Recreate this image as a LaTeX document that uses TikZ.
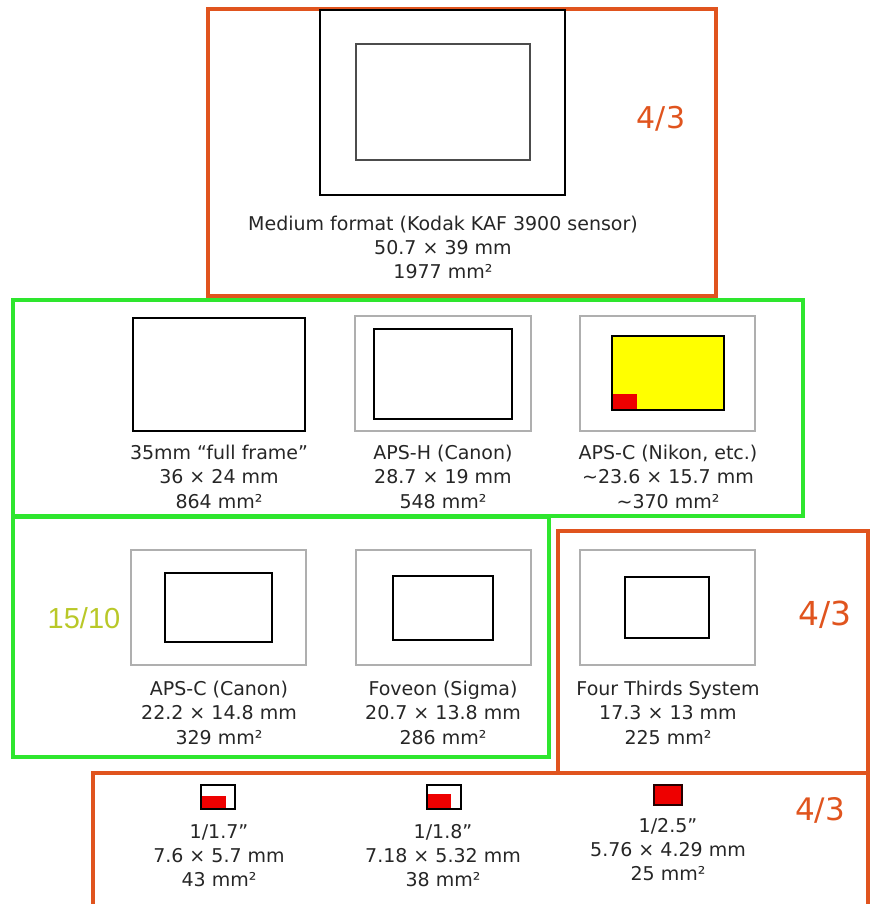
\documentclass[tikz,border=0pt]{standalone}
\usepackage{fontspec}
\setmainfont{DejaVu Sans}
\newfontfamily\ratiofont{Liberation Sans}
\definecolor{frameorange}{RGB}{224,84,30}
\definecolor{framegreen}{RGB}{46,230,46}
\definecolor{ratiolime}{RGB}{185,200,40}
\definecolor{framegray}{RGB}{175,175,175}
\definecolor{redfill}{RGB}{238,0,0}
\definecolor{yellowfill}{RGB}{255,255,0}
\begin{document}
\begin{tikzpicture}[x=1pt,y=-1pt,
  orangebox/.style={draw=frameorange,line width=3.5pt},
  greenbox/.style={draw=framegreen,line width=4pt},
  grayframe/.style={draw=framegray,line width=1.3pt},
  sensorrect/.style={draw=black,line width=2.2pt},
  innergray/.style={draw=black!70,line width=1.6pt},
  smallrect/.style={draw=black,line width=1.5pt},
  caption/.style={align=center,anchor=north,inner sep=0pt,text=black!85,font=\fontsize{19}{24.3}\selectfont},
  ratio/.style={inner sep=0pt,text=frameorange,font=\fontsize{31}{31}\selectfont}]
\useasboundingbox (0,0) rectangle (877,904);
% ---------- group frames ----------
\draw[orangebox] (208,9) rectangle (716,296);
\draw[greenbox] (13,300) rectangle (803,516);
\draw[greenbox] (13,517) rectangle (549,757);
\draw[orangebox] (558,531) rectangle (868,773);
\draw[orangebox] (93,773) rectangle (868,920);
% ---------- medium format ----------
\draw[sensorrect,line width=2pt] (320,10) rectangle (565,195);
\draw[innergray] (356,44) rectangle (530,160);
\node[caption] (medium) at (443,215.5) {Medium format (Kodak KAF 3900 sensor)\\50.7 × 39 mm\\1977 mm²};
\node[ratio,font=\fontsize{30}{30}\selectfont] (ratiotop) at (661,119) {4/3};
% ---------- row 1 ----------
\draw[sensorrect] (133,318) rectangle (305,431);
\draw[grayframe] (355,316) rectangle (531,431);
\draw[sensorrect] (374,329) rectangle (512,419);
\draw[grayframe] (580,316) rectangle (755,431);
\draw[sensorrect,fill=yellowfill] (612,336) rectangle (724,410);
\fill[redfill] (613.1,394) rectangle (637,408.9);
\node[caption] (fullframe) at (219,445) {35mm “full frame”\\36 × 24 mm\\864 mm²};
\node[caption] (apsh) at (443,445) {APS-H (Canon)\\28.7 × 19 mm\\548 mm²};
\node[caption] (apscn) at (668,445) {APS-C (Nikon, etc.)\\\textasciitilde23.6 × 15.7 mm\\\textasciitilde370 mm²};
% ---------- row 2 ----------
\draw[grayframe] (131,550) rectangle (306,665);
\draw[sensorrect] (165,573) rectangle (272,642);
\draw[grayframe] (356,550) rectangle (531,665);
\draw[sensorrect] (393,576) rectangle (493,640);
\draw[grayframe] (580,550) rectangle (755,665);
\draw[sensorrect] (625,577) rectangle (709,638);
\node[caption] (apscc) at (219,681) {APS-C (Canon)\\22.2 × 14.8 mm\\329 mm²};
\node[caption] (foveon) at (443,681) {Foveon (Sigma)\\20.7 × 13.8 mm\\286 mm²};
\node[caption] (fourthirds) at (668,681) {Four Thirds System\\17.3 × 13 mm\\225 mm²};
\node[inner sep=0pt,text=ratiolime,font=\ratiofont\fontsize{29}{29}\selectfont] (ratiomid) at (84,618) {15/10};
\node[ratio,font=\fontsize{33}{33}\selectfont] (ratioright) at (825,615) {4/3};
% ---------- row 3 ----------
\fill[redfill] (201,796) rectangle (226,809);
\draw[smallrect] (201,785) rectangle (235,809);
\fill[redfill] (427,794) rectangle (451,809);
\draw[smallrect] (427,785) rectangle (461,809);
\draw[smallrect,fill=redfill,draw=black!85!red] (654,785) rectangle (682,805);
\node[caption] (onesev) at (219,824) {1/1.7”\\7.6 × 5.7 mm\\43 mm²};
\node[caption] (oneeight) at (443,824) {1/1.8”\\7.18 × 5.32 mm\\38 mm²};
\node[caption] (twofive) at (668,818) {1/2.5”\\5.76 × 4.29 mm\\25 mm²};
\node[ratio] (ratiobottom) at (820,810) {4/3};
\end{tikzpicture}
\end{document}
